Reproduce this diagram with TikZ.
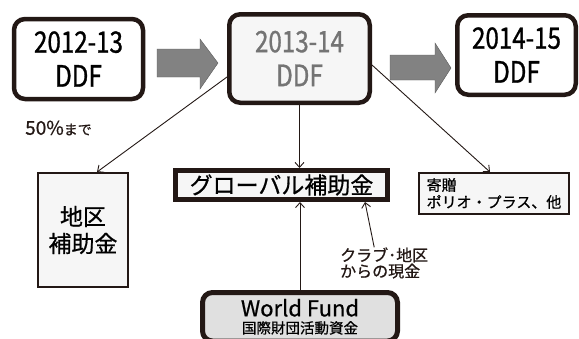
\documentclass[tikz,border=0pt]{standalone}
\usepackage{fontspec}
\setmainfont{Noto Sans CJK JP}[FakeBold=0.7]
\newfontfamily\condfont{Noto Sans CJK JP}[FakeStretch=0.82,FakeBold=1.0]
\usetikzlibrary{arrows.meta}
\definecolor{ink}{HTML}{231815}
\definecolor{paper}{HTML}{F6F6F6}
\definecolor{fundfill}{HTML}{E0E0E0}
\definecolor{fadedtext}{HTML}{747474}
\definecolor{blockgray}{HTML}{828282}
\tikzset{
  yearbox/.style={draw=ink, line width=4.5pt, rounded corners=11pt, fill=white, align=center, inner sep=0pt, font=\condfont\fontsize{29.5}{34}\selectfont},
  thinbox/.style={draw=ink, line width=2pt, fill=paper, inner sep=0pt},
  thickbox/.style={draw=ink, line width=5pt, fill=paper, inner sep=0pt},
  conn/.style={draw=ink, line width=0.9pt, -{Straight Barb[length=5pt,width=9pt]}},
  blockarrow/.style={fill=blockgray, draw=blockgray!70!black, line width=0.4pt},
  lab/.style={text=ink, inner sep=0pt},
}

\begin{document}
\begin{tikzpicture}[x=1pt,y=-1pt]
  \clip (0,0) rectangle (579,338);

  \node[yearbox, minimum width=129pt, minimum height=80pt] (yearA) at (78.5,59) {2012-13\\DDF};
  \node[yearbox, minimum width=140.5pt, minimum height=88.5pt, fill=paper, text=fadedtext] (yearB) at (299.5,58.5) {2013-14\\DDF};
  \node[yearbox, minimum width=118.5pt, minimum height=79.5pt] (yearC) at (516.5,55) {2014-15\\DDF};

  \fill[blockarrow] (157,49) -- (200,49) -- (200,39) -- (218,63) -- (200,89) -- (200,77) -- (157,77) -- cycle;
  \fill[blockarrow] (390,55) -- (435,55) -- (435,43) -- (451,68) -- (435,93) -- (435,80) -- (390,80) -- cycle;

  \node[lab, anchor=west, font=\fontsize{19}{19}\selectfont] (limit) at (25,128) {50\%{\fontsize{14}{14}\selectfont まで}};

  \node[thinbox, minimum width=90pt, minimum height=114pt, align=center, font=\fontsize{23}{27}\selectfont] (district) at (83,230) {地区\\補助金};
  \node[thickbox, minimum width=212pt, minimum height=29pt, font=\fontsize{23}{23}\selectfont] (global) at (281.5,185) {グローバル補助金};
  \node[thinbox, minimum width=150pt, minimum height=41pt, align=left, font=\fontsize{15}{17}\selectfont] (gift) at (494,193.5) {寄贈\\ポリオ・プラス、他};

  \node[thickbox, fill=fundfill, rounded corners=10pt, minimum width=195pt, minimum height=48.5pt, align=center, font=\fontsize{14.5}{17}\selectfont] (fund) at (300,316.75)
    {{\fontsize{22}{22}\selectfont World\ Fund}\\{\fontsize{14.5}{17}\selectfont 国際財団活動資金}};

  \node[lab, anchor=west, align=left, font=\fontsize{16}{16}\selectfont] (cash) at (340,263) {クラブ･地区\\からの現金};

  \draw[conn] ([yshift=-18.5pt]yearB.west) -- ([xshift=14pt]district.north);
  \draw[conn] (yearB.south) -- (yearB.south |- global.north);
  \draw[conn] ([yshift=-6.5pt]yearB.east) -- ([xshift=-4pt]gift.north);
  \draw[conn] (fund.north) -- (fund.north |- global.south);
  \draw[conn] ([xshift=-10pt]cash.north) -- ([xshift=83.5pt]global.south);
\end{tikzpicture}
\end{document}
